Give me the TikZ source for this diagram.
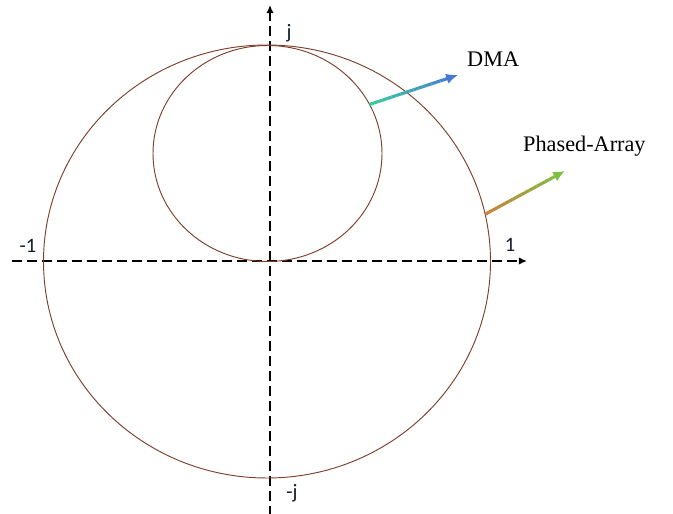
\documentclass[tikz,border=0pt]{standalone}
\usepackage{fontspec}
\setmainfont{Liberation Serif}
\newfontfamily\calibri{Carlito}
\usetikzlibrary{positioning,arrows.meta,calc}
\definecolor{circbrown}{HTML}{7E3F2B}
\definecolor{dmateal}{HTML}{3CCB9B}
\definecolor{dmablue}{HTML}{4679D2}
\definecolor{paorange}{HTML}{C9803A}
\definecolor{pagreen}{HTML}{7CC043}
\definecolor{labnavy}{HTML}{141B2E}

\begin{document}
\begin{tikzpicture}[x=0.03cm,y=0.03cm,
 axis/.style={line width=1.9pt,dash pattern=on 8.5pt off 4.3pt,-{Latex[length=7pt,width=6.5pt]}},
 rim/.style={line width=0.8pt,circbrown},
 beam/.style={line width=2.7pt},
 tip/.style={-{Latex[length=10pt,width=9pt]}},
 axlab/.style={font=\calibri\fontsize{17.5}{20}\selectfont,text=labnavy,inner sep=0pt},
 callout/.style={font=\fontsize{19}{22}\selectfont,inner sep=0pt}]
\useasboundingbox (0,0) rectangle (673,514);
% axes
\coordinate (west) at (12,253);
\coordinate (east) at (527,253);
\coordinate (south) at (270,-2);
\coordinate (north) at (270,509);
\draw[axis] (west) -- (east);
\draw[axis] (south) -- (north);
% circles
\coordinate (bigc) at (267,252.5);
\coordinate (smallc) at (267.5,360.5);
\draw[rim] (bigc) ellipse [x radius=223.5,y radius=216.5];
\draw[rim] (smallc) ellipse [x radius=114.5,y radius=108];
% pointers
\coordinate (dmaS) at ($(smallc)+(27:114.5 and 108)$);
\coordinate (dmaE) at (458,439);
\coordinate (paS) at ($(bigc)+(12.6:223.5 and 216.5)$);
\coordinate (paE) at (565,343);
\foreach \k [evaluate=\k as \p using 100*(\k+0.5)/20] in {0,...,16}{
  \draw[beam,dmablue!\p!dmateal] ($(dmaS)!{\k/20}!(dmaE)$) -- ($(dmaS)!{(\k+1)/20}!(dmaE)$);
  \draw[beam,pagreen!\p!paorange] ($(paS)!{\k/20}!(paE)$) -- ($(paS)!{(\k+1)/20}!(paE)$);
}
\draw[beam,tip,dmablue] ($(dmaS)!0.85!(dmaE)$) -- (dmaE);
\draw[beam,tip,pagreen] ($(paS)!0.85!(paE)$) -- (paE);
% labels
\node[axlab] (jlab) at (289,481) {j};
\node[axlab] (njlab) at (292,21) {-j};
\node[axlab] (neglab) at (28,268) {-1};
\node[axlab] (poslab) at (510,269.5) {1};
\node[callout,anchor=base west] (dmalab) at (467,447) {DMA};
\node[callout,anchor=base west] (palab) at (523,362) {Phased-Array};
\end{tikzpicture}
\end{document}
